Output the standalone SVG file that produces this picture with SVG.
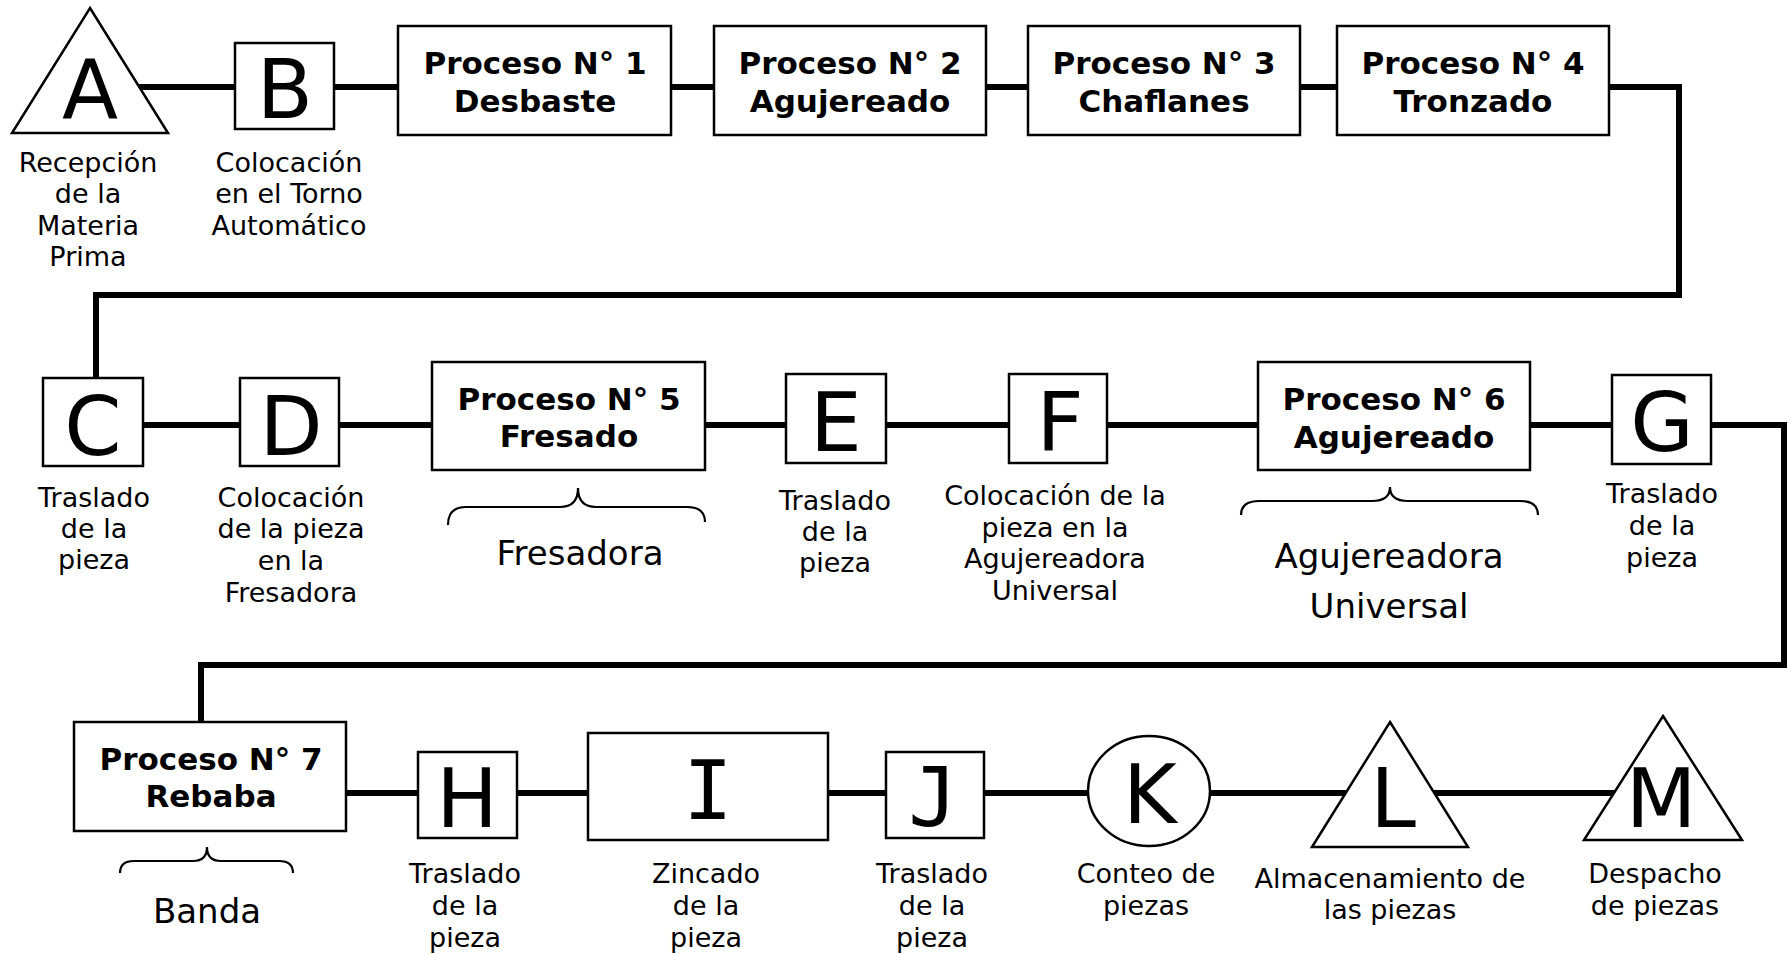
<svg xmlns="http://www.w3.org/2000/svg" width="1791" height="954" viewBox="0 0 1791 954">
<style>
.bg{fill:#fff}
.conn{fill:none;stroke:#000;stroke-width:6;stroke-linejoin:miter}
.shape{fill:#fff;stroke:#000;stroke-width:2.5}
.brace{fill:none;stroke:#000;stroke-width:2.2}
.big{font-family:"DejaVu Sans",Verdana,sans-serif;font-size:82px;text-anchor:middle;fill:#000}
.mono{font-family:"DejaVu Sans Mono",monospace;font-size:82px;text-anchor:middle;fill:#000}
.title{font-family:"DejaVu Sans",Verdana,sans-serif;font-size:31px;font-weight:bold;text-anchor:middle;fill:#000}
.lbl{font-family:"DejaVu Sans",Verdana,sans-serif;font-size:27px;text-anchor:middle;fill:#000}
.mach{font-family:"DejaVu Sans",Verdana,sans-serif;font-size:34px;text-anchor:middle;fill:#000}
</style>
<rect class="bg" x="0" y="0" width="1791" height="954"/>
<g id="connectors">
<path class="conn" d="M90 87 H1679 V295 H96 V378"/>
<path class="conn" d="M93 425 H1784 V665 H201 V722"/>
<path class="conn" d="M210 793 H1663"/>
</g>
<g id="nodeA">
<polygon class="shape" points="90,8 168,133 12,133"/>
<text class="big" x="90" y="118">A</text>
<text class="lbl" x="88" y="172">Recepción</text>
<text class="lbl" x="88" y="203">de la</text>
<text class="lbl" x="88" y="235">Materia</text>
<text class="lbl" x="88" y="266">Prima</text>
</g>
<g id="nodeB">
<rect class="shape" x="235" y="43" width="99" height="86"/>
<text class="big" x="285" y="118">B</text>
<text class="lbl" x="289" y="172">Colocación</text>
<text class="lbl" x="289" y="203">en el Torno</text>
<text class="lbl" x="289" y="235">Automático</text>
</g>
<g id="proceso1">
<rect class="shape" x="398" y="26" width="273" height="109"/>
<text class="title" x="535" y="74">Proceso N° 1</text>
<text class="title" x="535" y="112">Desbaste</text>
</g>
<g id="proceso2">
<rect class="shape" x="714" y="26" width="272" height="109"/>
<text class="title" x="850" y="74">Proceso N° 2</text>
<text class="title" x="850" y="112">Agujereado</text>
</g>
<g id="proceso3">
<rect class="shape" x="1028" y="26" width="272" height="109"/>
<text class="title" x="1164" y="74">Proceso N° 3</text>
<text class="title" x="1164" y="112">Chaflanes</text>
</g>
<g id="proceso4">
<rect class="shape" x="1337" y="26" width="272" height="109"/>
<text class="title" x="1473" y="74">Proceso N° 4</text>
<text class="title" x="1473" y="112">Tronzado</text>
</g>
<g id="nodeC">
<rect class="shape" x="43" y="378" width="100" height="88"/>
<text class="big" x="93" y="455">C</text>
<text class="lbl" x="94" y="507">Traslado</text>
<text class="lbl" x="94" y="538">de la</text>
<text class="lbl" x="94" y="569">pieza</text>
</g>
<g id="nodeD">
<rect class="shape" x="240" y="378" width="99" height="88"/>
<text class="big" x="291" y="455">D</text>
<text class="lbl" x="291" y="507">Colocación</text>
<text class="lbl" x="291" y="538">de la pieza</text>
<text class="lbl" x="291" y="570">en la</text>
<text class="lbl" x="291" y="602">Fresadora</text>
</g>
<g id="proceso5">
<rect class="shape" x="432" y="362" width="273" height="108"/>
<text class="title" x="569" y="410">Proceso N° 5</text>
<text class="title" x="569" y="447">Fresado</text>
<path class="brace" d="M448,525 Q448,507 466,507 L560,507 Q578,507 578,488 Q578,507 596,507 L687,507 Q705,507 705,522"/>
<text class="mach" x="580" y="565">Fresadora</text>
</g>
<g id="nodeE">
<rect class="shape" x="786" y="374" width="100" height="89"/>
<text class="big" x="836" y="451">E</text>
<text class="lbl" x="835" y="510">Traslado</text>
<text class="lbl" x="835" y="541">de la</text>
<text class="lbl" x="835" y="572">pieza</text>
</g>
<g id="nodeF">
<rect class="shape" x="1009" y="374" width="98" height="89"/>
<text class="big" x="1060" y="451">F</text>
<text class="lbl" x="1055" y="505">Colocación de la</text>
<text class="lbl" x="1055" y="537">pieza en la</text>
<text class="lbl" x="1055" y="568">Agujereadora</text>
<text class="lbl" x="1055" y="600">Universal</text>
</g>
<g id="proceso6">
<rect class="shape" x="1258" y="362" width="272" height="108"/>
<text class="title" x="1394" y="410">Proceso N° 6</text>
<text class="title" x="1394" y="448">Agujereado</text>
<path class="brace" d="M1241,515 Q1241,501 1259,501 L1372,501 Q1390,501 1390,487 Q1390,501 1408,501 L1520,501 Q1538,501 1538,515"/>
<text class="mach" x="1389" y="568">Agujereadora</text>
<text class="mach" x="1389" y="618">Universal</text>
</g>
<g id="nodeG">
<rect class="shape" x="1612" y="375" width="99" height="89"/>
<text class="big" x="1662" y="451">G</text>
<text class="lbl" x="1662" y="503">Traslado</text>
<text class="lbl" x="1662" y="535">de la</text>
<text class="lbl" x="1662" y="567">pieza</text>
</g>
<g id="proceso7">
<rect class="shape" x="74" y="722" width="272" height="109"/>
<text class="title" x="211" y="770">Proceso N° 7</text>
<text class="title" x="211" y="807">Rebaba</text>
<path class="brace" d="M120,873 Q120,861 134,861 L193,861 Q207,861 207,847 Q207,861 221,861 L279,861 Q293,861 293,873"/>
<text class="mach" x="207" y="923">Banda</text>
</g>
<g id="nodeH">
<rect class="shape" x="418" y="752" width="99" height="86"/>
<text class="big" x="467" y="827">H</text>
<text class="lbl" x="465" y="883">Traslado</text>
<text class="lbl" x="465" y="915">de la</text>
<text class="lbl" x="465" y="947">pieza</text>
</g>
<g id="nodeI">
<rect class="shape" x="588" y="733" width="240" height="107"/>
<text class="mono" x="708" y="819">I</text>
<text class="lbl" x="706" y="883">Zincado</text>
<text class="lbl" x="706" y="915">de la</text>
<text class="lbl" x="706" y="947">pieza</text>
</g>
<g id="nodeJ">
<rect class="shape" x="886" y="752" width="98" height="86"/>
<text class="mono" x="933" y="826">J</text>
<text class="lbl" x="932" y="883">Traslado</text>
<text class="lbl" x="932" y="915">de la</text>
<text class="lbl" x="932" y="947">pieza</text>
</g>
<g id="nodeK">
<ellipse class="shape" cx="1149" cy="791" rx="61" ry="55"/>
<text class="big" x="1150" y="823">K</text>
<text class="lbl" x="1146" y="883">Conteo de</text>
<text class="lbl" x="1146" y="915">piezas</text>
</g>
<g id="nodeL">
<polygon class="shape" points="1390,722 1468,847 1312,847"/>
<text class="big" x="1393" y="827">L</text>
<text class="lbl" x="1390" y="888">Almacenamiento de</text>
<text class="lbl" x="1390" y="919">las piezas</text>
</g>
<g id="nodeM">
<polygon class="shape" points="1663,716 1742,840 1584,840"/>
<text class="big" x="1661" y="827">M</text>
<text class="lbl" x="1655" y="883">Despacho</text>
<text class="lbl" x="1655" y="915">de piezas</text>
</g>
</svg>
